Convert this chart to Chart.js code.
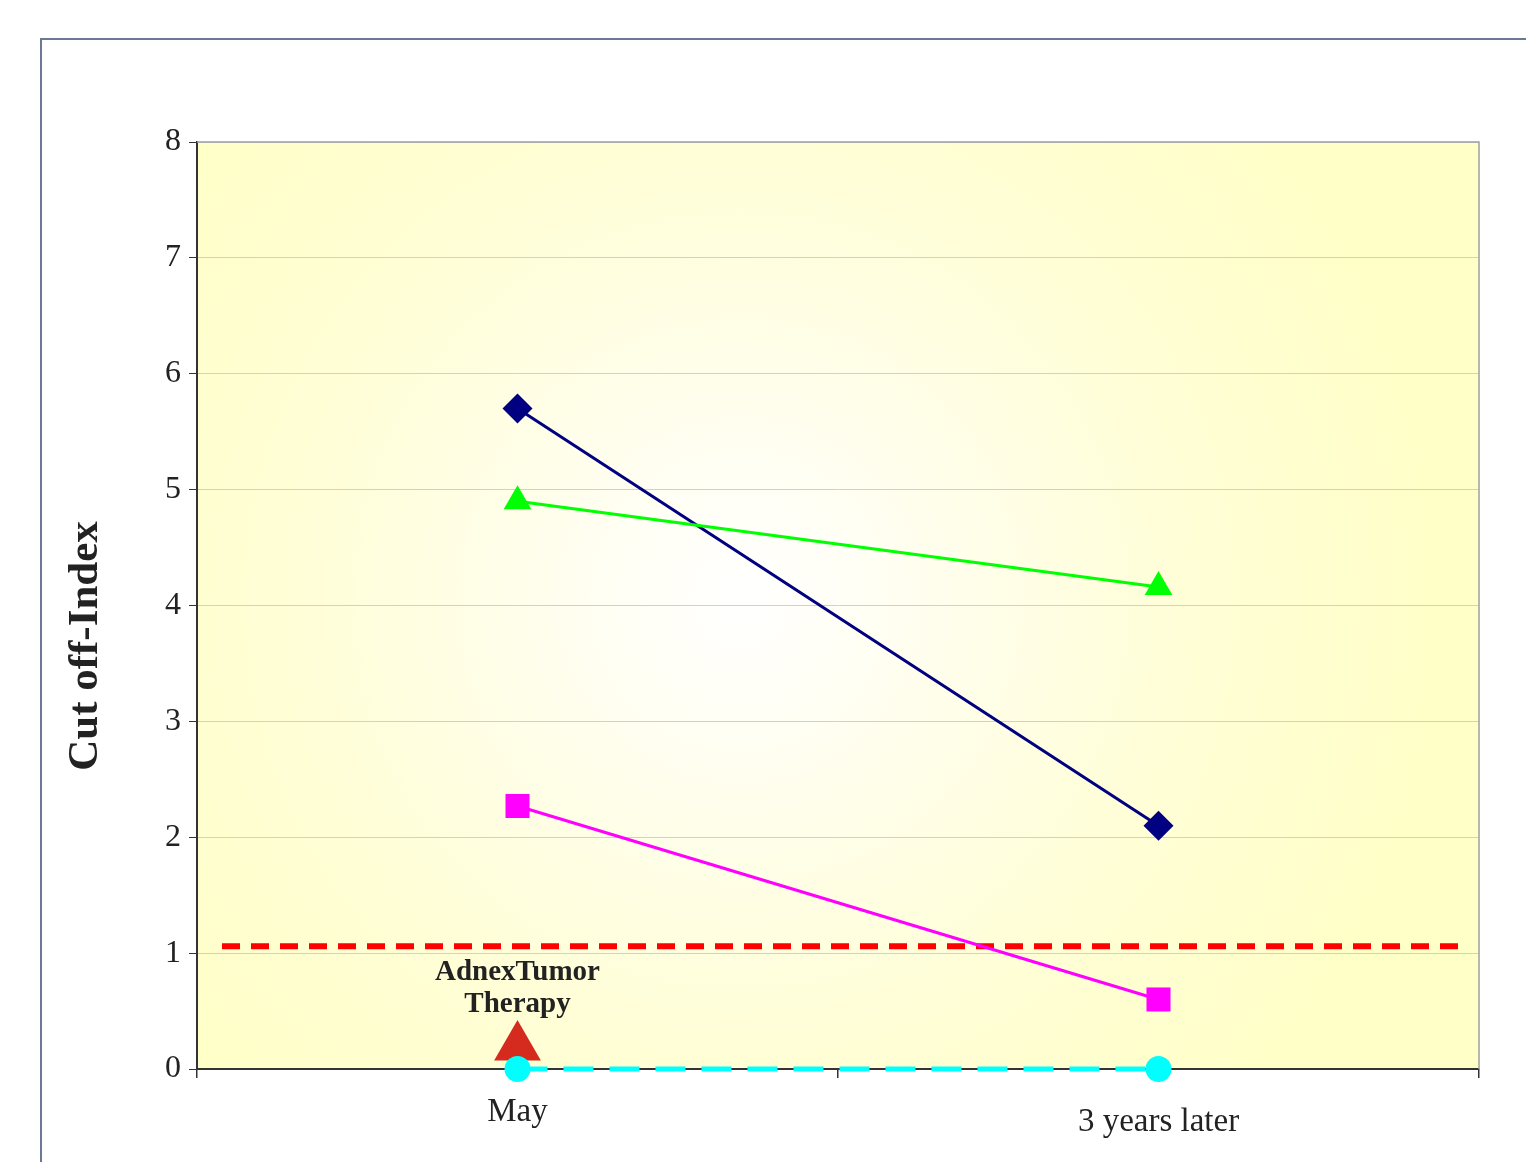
<!DOCTYPE html>
<html>
<head>
<meta charset="utf-8">
<script src="https://cdn.jsdelivr.net/npm/chart.js@4.4.1/dist/chart.umd.min.js"></script>
<style>
  html, body { margin: 0; padding: 0; background: #fff; }
  #wrap { width: 1526px; height: 1162px; }
</style>
</head>
<body>
<div id="wrap"><canvas id="myChart" width="1526" height="1162"></canvas></div>
<script>
// data
const categories = ["May", "3 years later"];
const navySeries = [5.7, 2.1];
const greenSeries = [4.9, 4.16];
const magentaSeries = [2.27, 0.6];
const cyanSeries = [0, 0];
const therapyMark = [0.19, null];
const cutoffValue = 1.06;
const yTickLabels = [0, 1, 2, 3, 4, 5, 6, 7, 8];
const yTitle = "Cut off-Index";
const noteLines = ["AdnexTumor", "Therapy"];

const serif = "'Liberation Serif', 'Times New Roman', serif";

// frame, gradient, cutoff line, notes
const decor = {
  id: "decor",
  beforeDraw(chart) {
    const c = chart.ctx, a = chart.chartArea;
    c.save();
    c.fillStyle = "#fff";
    c.fillRect(0, 0, chart.width, chart.height);
    c.strokeStyle = "#6b7896";
    c.lineWidth = 2;
    c.strokeRect(41, 39, 2000, 2000);
    const g = c.createRadialGradient(740, 600, 0, 740, 600, 700);
    g.addColorStop(0, "#ffffff");
    g.addColorStop(0.65, "#fffed6");
    g.addColorStop(1, "#ffffc8");
    c.fillStyle = g;
    c.fillRect(a.left, a.top, a.right - a.left, a.bottom - a.top);
    c.restore();
  },
  beforeDatasetsDraw(chart) {
    const c = chart.ctx, a = chart.chartArea;
    const y = chart.scales.y.getPixelForValue(cutoffValue);
    c.save();
    c.strokeStyle = "#ff0000";
    c.lineWidth = 6;
    c.setLineDash([18, 11]);
    c.beginPath();
    c.moveTo(a.left + 25, y);
    c.lineTo(a.right - 10, y);
    c.stroke();
    c.setLineDash([]);
    c.strokeStyle = "#a0a0a0";
    c.lineWidth = 1.5;
    c.beginPath();
    c.moveTo(a.left, a.top);
    c.lineTo(a.right, a.top);
    c.lineTo(a.right, a.bottom);
    c.stroke();
    c.restore();
  },
  afterDraw(chart) {
    const c = chart.ctx;
    const x = chart.scales.x.getPixelForValue(0);
    c.save();
    c.fillStyle = "#222";
    c.textAlign = "center";
    c.textBaseline = "middle";
    c.font = "bold 29px " + serif;
    c.fillText(noteLines[0], x, 973);
    c.fillText(noteLines[1], x, 1005);
    c.translate(86, 646);
    c.rotate(-Math.PI / 2);
    c.font = "bold 43px " + serif;
    c.fillText(yTitle, 0, 0);
    c.restore();
  }
};

new Chart("myChart", {
  type: "line",
  data: {
    labels: categories,
    datasets: [
      { data: cyanSeries, borderColor: "#00ffff", backgroundColor: "#00ffff", borderWidth: 5,
        borderDash: [30, 16], pointStyle: "circle", pointRadius: 13, pointBorderWidth: 0, clip: false },
      { data: magentaSeries, borderColor: "#ff00ff", backgroundColor: "#ff00ff", borderWidth: 3,
        pointStyle: "rect", pointRadius: 17, pointBorderWidth: 0, clip: false },
      { data: greenSeries, borderColor: "#00ff00", backgroundColor: "#00ff00", borderWidth: 3,
        pointStyle: "triangle", pointRadius: 16, pointBorderWidth: 0, clip: false },
      { data: navySeries, borderColor: "#000080", backgroundColor: "#000080", borderWidth: 3,
        pointStyle: "rectRot", pointRadius: 15, pointBorderWidth: 0, clip: false },
      { data: therapyMark, showLine: false, borderColor: "#d52b1e", backgroundColor: "#d52b1e",
        pointStyle: "triangle", pointRadius: 27, pointBorderWidth: 0, clip: false }
    ]
  },
  options: {
    responsive: false,
    animation: false,
    layout: { padding: { top: 142, right: 47, left: 0, bottom: 0 } },
    plugins: { legend: { display: false }, tooltip: { enabled: false } },
    scales: {
      x: {
        offset: true,
        afterFit: s => { s.height = 93; },
        grid: { drawOnChartArea: false, offset: true, tickLength: 9, color: "#333", lineWidth: 1.5 },
        border: { color: "#333", width: 2 },
        ticks: {
          color: "#222",
          padding: 15,
          font: ctx => ({ family: serif, size: 33, lineHeight: ctx.index === 1 ? 1.8 : 1.2 })
        }
      },
      y: {
        min: 0, max: 8,
        afterFit: s => { s.width = 197; },
        afterBuildTicks: s => { s.ticks = yTickLabels.map(v => ({ value: v })); },
        grid: { color: "#d0d0d0", lineWidth: 1, tickLength: 8, tickColor: "#333" },
        border: { color: "#333", width: 2 },
        ticks: { color: "#222", padding: 8, font: { family: serif, size: 32 } }
      }
    }
  },
  plugins: [decor]
});
</script>
</body>
</html>
